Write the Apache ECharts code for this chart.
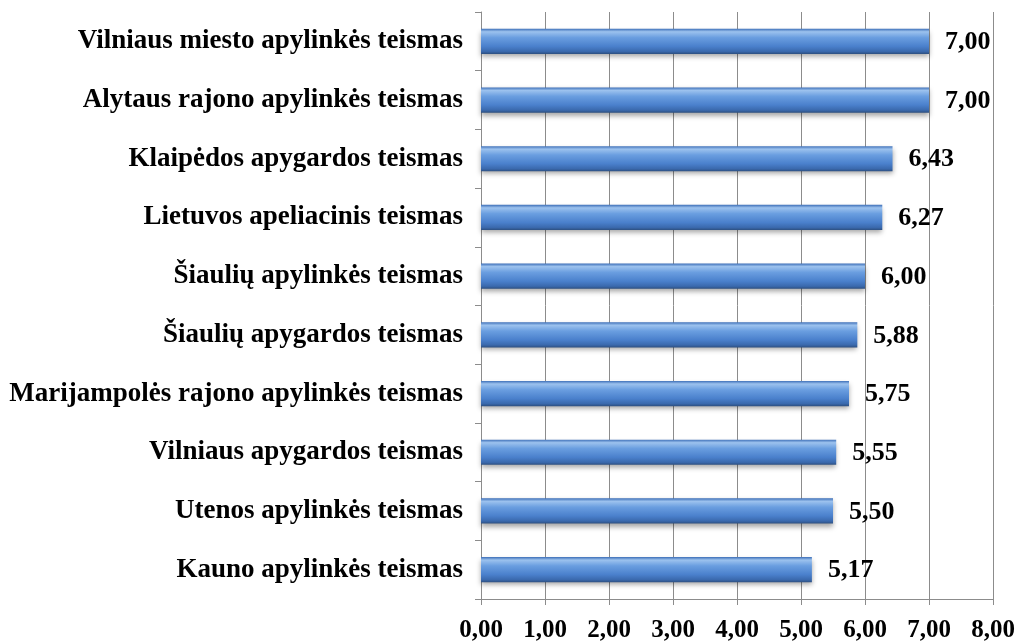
<!DOCTYPE html>
<html><head><meta charset="utf-8">
<script src="https://cdn.jsdelivr.net/npm/echarts@6/dist/echarts.min.js"></script>
<style>html,body{margin:0;padding:0;background:#fff}#c{width:1019px;height:644px}</style>
</head><body><div id="c"></div>
<script>
const categories = [
  "Kauno apylinkės teismas",
  "Utenos apylinkės teismas",
  "Vilniaus apygardos teismas",
  "Marijampolės rajono apylinkės teismas",
  "Šiaulių apygardos teismas",
  "Šiaulių apylinkės teismas",
  "Lietuvos apeliacinis teismas",
  "Klaipėdos apygardos teismas",
  "Alytaus rajono apylinkės teismas",
  "Vilniaus miesto apylinkės teismas"
];
const values = [5.17, 5.50, 5.55, 5.75, 5.88, 6.00, 6.27, 6.43, 7.00, 7.00];
const axisMin = 0, axisMax = 8, axisStep = 1;

const FONT = '"Liberation Serif","Times New Roman",serif';
const fmt = v => v.toFixed(2).replace('.', ',');
const chart = echarts.init(document.getElementById('c'), null, {renderer: 'canvas'});
chart.setOption({
  animation: false,
  backgroundColor: '#fff',
  grid: {left: 481, right: 26, top: 12, bottom: 45, containLabel: false},
  xAxis: {
    type: 'value', min: axisMin, max: axisMax, interval: axisStep,
    axisLine: {show: true, lineStyle: {color: '#8c8c8c', width: 1}},
    axisTick: {show: true, length: 6, lineStyle: {color: '#8c8c8c'}},
    splitLine: {show: true, lineStyle: {color: '#8c8c8c', width: 1}},
    axisLabel: {formatter: fmt, fontFamily: FONT, fontWeight: 'bold', fontSize: 25, color: '#000', margin: 19}
  },
  yAxis: {
    type: 'category', data: categories,
    axisLine: {show: true, lineStyle: {color: '#8c8c8c', width: 1}},
    axisTick: {show: true, length: 6, lineStyle: {color: '#8c8c8c'}},
    axisLabel: {fontFamily: FONT, fontWeight: 'bold', fontSize: 27, color: '#000', margin: 18}
  },
  series: [{
    type: 'bar', data: values, barCategoryGap: '57%',
    itemStyle: {
      color: new echarts.graphic.LinearGradient(0, 0, 0, 1, [
        {offset: 0, color: '#3d6fb8'},
        {offset: 0.12, color: '#9cc2ee'},
        {offset: 0.35, color: '#6a9ee0'},
        {offset: 0.7, color: '#4a80cc'},
        {offset: 0.9, color: '#3a69ad'},
        {offset: 1, color: '#2d4f80'}
      ]),
      shadowColor: 'rgba(0,0,0,0.35)', shadowBlur: 5, shadowOffsetY: 3
    },
    label: {show: true, position: 'right', distance: 16, formatter: p => fmt(p.value),
      fontFamily: FONT, fontWeight: 'bold', fontSize: 26, color: '#000', offset: [0, 1]}
  }]
});
</script></body></html>
